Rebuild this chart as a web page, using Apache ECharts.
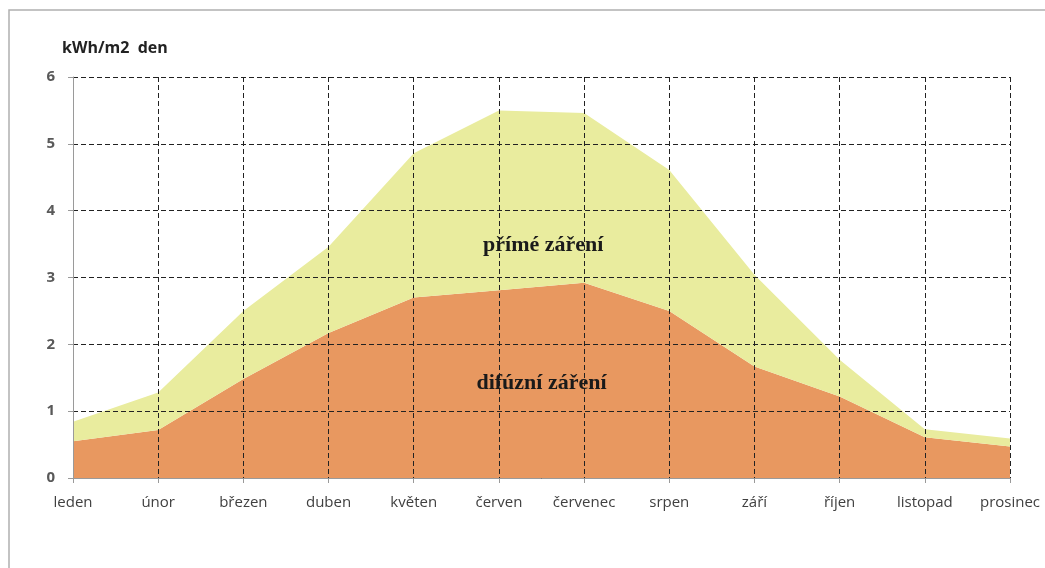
<!DOCTYPE html>
<html>
<head>
<meta charset="utf-8">
<script src="https://cdn.jsdelivr.net/npm/echarts@6/dist/echarts.min.js"></script>
<style>
  html, body { margin: 0; padding: 0; background: #fff; }
  #chart { width: 1045px; height: 568px; }
</style>
</head>
<body>
<div id="chart"></div>
<script>
// Měsíce
const mesice = ['leden', 'únor', 'březen', 'duben', 'květen', 'červen',
                'červenec', 'srpen', 'září', 'říjen', 'listopad', 'prosinec'];

// Difúzní složka ozáření (kWh/m2 den)
const difuzni = [0.55, 0.72, 1.48, 2.17, 2.70, 2.81, 2.92, 2.50, 1.67, 1.22, 0.61, 0.47];

// Přímá složka ozáření, skládá se nad difúzní (kWh/m2 den)
const prime = [0.29, 0.56, 1.02, 1.29, 2.16, 2.69, 2.54, 2.11, 1.37, 0.55, 0.12, 0.12];

// Popisky osy y
const yTicks = [0, 1, 2, 3, 4, 5, 6];

const chart = echarts.init(document.getElementById('chart'));

const dashed = { color: '#222', type: [5, 3], width: 1 };

chart.setOption({
  animation: false,
  grid: { left: 73, right: 35, top: 77, bottom: 90 },
  xAxis: {
    type: 'category',
    data: mesice,
    boundaryGap: false,
    axisLine: { lineStyle: { color: '#9a9a9a', width: 1 } },
    axisTick: { show: true, length: 5, lineStyle: { color: '#9a9a9a' } },
    axisLabel: { color: '#404040', fontSize: 15, margin: 17, fontFamily: '"Open Sans", sans-serif', interval: 0 },
    splitLine: { show: true, lineStyle: dashed },
    z: 5
  },
  yAxis: {
    type: 'value',
    min: yTicks[0],
    max: yTicks[yTicks.length - 1],
    interval: 1,
    axisLine: { show: true, lineStyle: { color: '#9a9a9a', width: 1 } },
    axisTick: { show: true, length: 5, lineStyle: { color: '#9a9a9a' } },
    axisLabel: { color: '#595959', fontSize: 15, fontWeight: 'bold', margin: 18, fontFamily: '"Open Sans", sans-serif' },
    splitLine: { show: true, lineStyle: dashed },
    z: 5
  },
  series: [
    {
      name: 'difúzní záření',
      type: 'line',
      stack: 'ozareni',
      data: difuzni,
      symbol: 'none',
      lineStyle: { width: 0 },
      areaStyle: { color: '#e89860', opacity: 1 },
      z: 1
    },
    {
      name: 'přímé záření',
      type: 'line',
      stack: 'ozareni',
      data: prime,
      symbol: 'none',
      lineStyle: { width: 0 },
      areaStyle: { color: '#e9ec9e', opacity: 1 },
      z: 1
    }
  ]
});

// Bod mezi kategoriemi: kategoriální osa zaokrouhluje na index, proto se interpoluje
function toPixel(xIdx, yVal) {
  const i0 = Math.floor(xIdx);
  const a = chart.convertToPixel({ gridIndex: 0 }, [i0, yVal]);
  const b = chart.convertToPixel({ gridIndex: 0 }, [i0 + 1, yVal]);
  return [a[0] + (b[0] - a[0]) * (xIdx - i0), a[1]];
}

// Popisky ploch
const serif = '"Liberation Serif", "Times New Roman", serif';
const areaLabel = (text, p) => ({
  type: 'text', x: p[0], y: p[1], z: 10,
  style: {
    text: text, fontSize: 22, fontWeight: 'bold', fontFamily: serif, fill: '#1a1a1a',
    align: 'center', verticalAlign: 'middle', textAlign: 'center', textVerticalAlign: 'middle'
  }
});

chart.setOption({
  graphic: [
    {
      type: 'rect', silent: true, z: -1,
      shape: { x: 9, y: 10, width: 1100, height: 700 },
      style: { fill: 'none', stroke: '#b0b0b0', lineWidth: 1.5 }
    },
    {
      type: 'text', x: 62, y: 48, z: 10,
      style: {
        text: 'kWh/m2  den', fontSize: 16, fontWeight: 'bold', fontFamily: '"Open Sans", sans-serif',
        fill: '#222', textVerticalAlign: 'middle', verticalAlign: 'middle'
      }
    },
    areaLabel('přímé záření', toPixel(5.52, 3.48)),
    areaLabel('difúzní záření', toPixel(5.5, 1.41))
  ]
});
</script>
</body>
</html>
